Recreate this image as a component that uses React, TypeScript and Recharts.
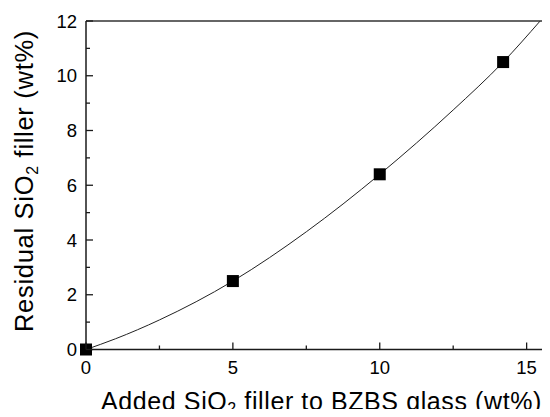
import React from 'react';
import { ComposedChart, Line, Scatter, XAxis, YAxis } from 'recharts';

// Measured points (added SiO2 vs residual SiO2)
const addedSiO2 = [0, 5, 10, 14.2];
const residualSiO2 = [0, 2.5, 6.4, 10.5];

// Fitted curve
const fitX = [0, 1, 2.5, 5, 7.5, 10, 12.5, 14.2, 15.46];
const fitY = [0, 0.39, 1.08, 2.5, 4.3, 6.4, 8.75, 10.5, 12];

const xTicks = [0, 2.5, 5, 7.5, 10, 12.5, 15];
const xTickLabels = [0, 5, 10, 15];
const yTicks = [0, 1, 2, 3, 4, 5, 6, 7, 8, 9, 10, 11, 12];
const yTickLabels = [0, 2, 4, 6, 8, 10, 12];

const pointData = addedSiO2.map((x, i) => ({ x, y: residualSiO2[i] }));
const fitData = fitX.map((x, i) => ({ x, y: fitY[i] }));

const FONT = '"Liberation Sans", Arial, Helvetica, sans-serif';
const AX = '#1a1a1a';
const MAJOR = 7;
const MINOR = 4;

const BottomTick = (p: any) => {
  const v = p.payload.value;
  const major = xTickLabels.includes(v);
  return (
    <g>
      <line x1={p.x} x2={p.x} y1={p.y} y2={p.y - (major ? MAJOR : MINOR)} stroke={AX} strokeWidth={1.3} />
      {major && (
        <text x={p.x} y={p.y + 24} textAnchor="middle" fontFamily={FONT} fontSize={18.5} fill="#000">
          {v}
        </text>
      )}
    </g>
  );
};

const TopTick = (p: any) => {
  const v = p.payload.value;
  const major = xTickLabels.includes(v);
  return <line x1={p.x} x2={p.x} y1={p.y} y2={p.y + (major ? MAJOR : MINOR)} stroke={AX} strokeWidth={1.3} />;
};

const LeftTick = (p: any) => {
  const v = p.payload.value;
  const major = yTickLabels.includes(v);
  return (
    <g>
      <line x1={p.x} x2={p.x + (major ? MAJOR : MINOR)} y1={p.y} y2={p.y} stroke={AX} strokeWidth={1.3} />
      {major && (
        <text x={p.x - 9} y={p.y + 6.5} textAnchor="end" fontFamily={FONT} fontSize={18.5} fill="#000">
          {v}
        </text>
      )}
    </g>
  );
};

const RightTick = (p: any) => {
  const v = p.payload.value;
  const major = yTickLabels.includes(v);
  return <line x1={p.x} x2={p.x - (major ? MAJOR : MINOR)} y1={p.y} y2={p.y} stroke={AX} strokeWidth={1.3} />;
};

const XTitle = () => (
  <text
    x={313.5}
    y={401.5}
    textAnchor="middle"
    fontFamily={FONT}
    fontSize={25}
    letterSpacing={0.6}
    fill="#000"
  >
    Added SiO
    <tspan fontSize={16} dy={4}>2</tspan>
    <tspan dy={-4}> filler to BZBS glass (wt%)</tspan>
  </text>
);

const YTitle = () => (
  <text
    x={25}
    y={173}
    transform="rotate(-90 25 173)"
    textAnchor="middle"
    fontFamily={FONT}
    fontSize={25.5}
    letterSpacing={0.7}
    fill="#000"
  >
    Residual SiO
    <tspan fontSize={16} dy={5}>2</tspan>
    <tspan dy={-5}> filler (wt%)</tspan>
  </text>
);

const SquareDot = (p: any) => (
  <rect x={p.cx - 6} y={p.cy - 6} width={12} height={12} fill="#000" />
);

export default function App() {
  return (
    <div style={{ width: 542, height: 409, overflow: 'hidden', marginBottom: -8 }}>
      <ComposedChart
        width={560}
        height={409}
        margin={{ top: 12, right: 11, bottom: 66.5, left: 77 }}
      >
        <XAxis
          xAxisId="bottom"
          dataKey="x"
          type="number"
          domain={[0, 16]}
          ticks={xTicks}
          interval={0}
          height={1}
          tickSize={0}
          tickMargin={0}
          tickLine={false}
          tick={BottomTick}
          axisLine={{ stroke: AX, strokeWidth: 1.5 }}
          label={<XTitle />}
        />
        <XAxis
          xAxisId="top"
          orientation="top"
          dataKey="x"
          type="number"
          domain={[0, 16]}
          ticks={xTicks}
          interval={0}
          height={1}
          tickSize={0}
          tickMargin={0}
          tickLine={false}
          tick={TopTick}
          axisLine={{ stroke: '#333', strokeWidth: 1.5 }}
        />
        <YAxis
          yAxisId="left"
          dataKey="y"
          type="number"
          domain={[0, 12]}
          ticks={yTicks}
          interval={0}
          width={1}
          tickSize={0}
          tickMargin={0}
          tickLine={false}
          tick={LeftTick}
          axisLine={{ stroke: AX, strokeWidth: 1.5 }}
          label={<YTitle />}
        />
        <YAxis
          yAxisId="right"
          orientation="right"
          dataKey="y"
          type="number"
          domain={[0, 12]}
          ticks={yTicks}
          interval={0}
          width={1}
          tickSize={0}
          tickMargin={0}
          tickLine={false}
          tick={RightTick}
          axisLine={{ stroke: AX, strokeWidth: 1.5 }}
        />
        <Line
          xAxisId="bottom"
          yAxisId="left"
          data={fitData}
          dataKey="y"
          type="monotone"
          stroke="#222"
          strokeWidth={1}
          dot={false}
          activeDot={false}
          isAnimationActive={false}
        />
        <Scatter
          xAxisId="bottom"
          yAxisId="left"
          data={pointData}
          dataKey="y"
          shape={SquareDot}
          isAnimationActive={false}
        />
      </ComposedChart>
    </div>
  );
}
